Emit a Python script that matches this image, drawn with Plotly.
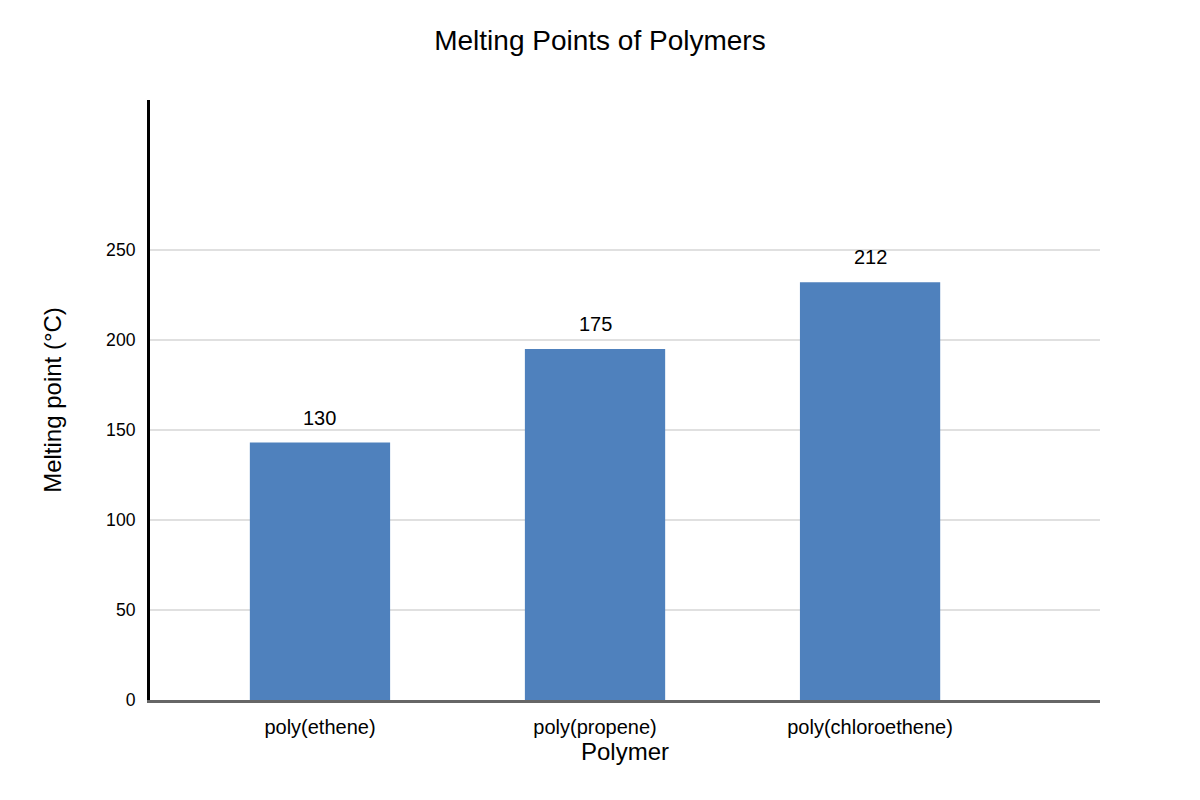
import plotly.graph_objects as go

# Data
polymers = ["poly(ethene)", "poly(propene)", "poly(chloroethene)"]
bar_heights = [143, 195, 232]          # drawn bar heights on the axis
bar_labels = ["130", "175", "212"]     # labels printed above the bars
y_ticks = [0, 50, 100, 150, 200, 250]

FONT = "Liberation Sans, Arial, sans-serif"

fig = go.Figure(
    go.Bar(
        x=polymers,
        y=bar_heights,
        width=0.51,
        marker=dict(color="#4f81bd", line=dict(width=0)),
        hoverinfo="skip",
    )
)

# Bar labels sit a little above each bar
for name, h, lab in zip(polymers, bar_heights, bar_labels):
    fig.add_annotation(
        x=name, y=h, text=lab, showarrow=False,
        yanchor="bottom", yshift=12,
        font=dict(family=FONT, size=20, color="black"),
    )

# page body adds an 8px offset, margins compensate for it
fig.update_layout(
    width=1200,
    height=800,
    paper_bgcolor="white",
    plot_bgcolor="white",
    font=dict(family=FONT, color="black"),
    title=dict(
        text="Melting Points of Polymers",
        x=0.4933, xanchor="center",
        y=0.96, yanchor="middle",
        font=dict(size=28, color="black"),
    ),
    margin=dict(l=142, r=108, t=92, b=108),
    showlegend=False,
    bargap=0.49,
)

fig.update_xaxes(
    range=[-0.618, 2.836],
    showgrid=False,
    showline=True, linecolor="#666666", linewidth=3,
    ticks="", tickfont=dict(size=20),
    ticklabelstandoff=7,
    title=dict(text="Polymer", font=dict(size=24), standoff=0),
)

fig.update_yaxes(
    range=[0, 333.3],
    tickvals=y_ticks,
    showgrid=True, gridcolor="#e0e0e0", gridwidth=1.5,
    zeroline=False,
    showline=True, linecolor="black", linewidth=3,
    ticks="", tickfont=dict(size=17.6),
    ticklabelstandoff=8,
    title=dict(text="Melting point (°C)", font=dict(size=24), standoff=38),
)

fig.write_html("out.html")
